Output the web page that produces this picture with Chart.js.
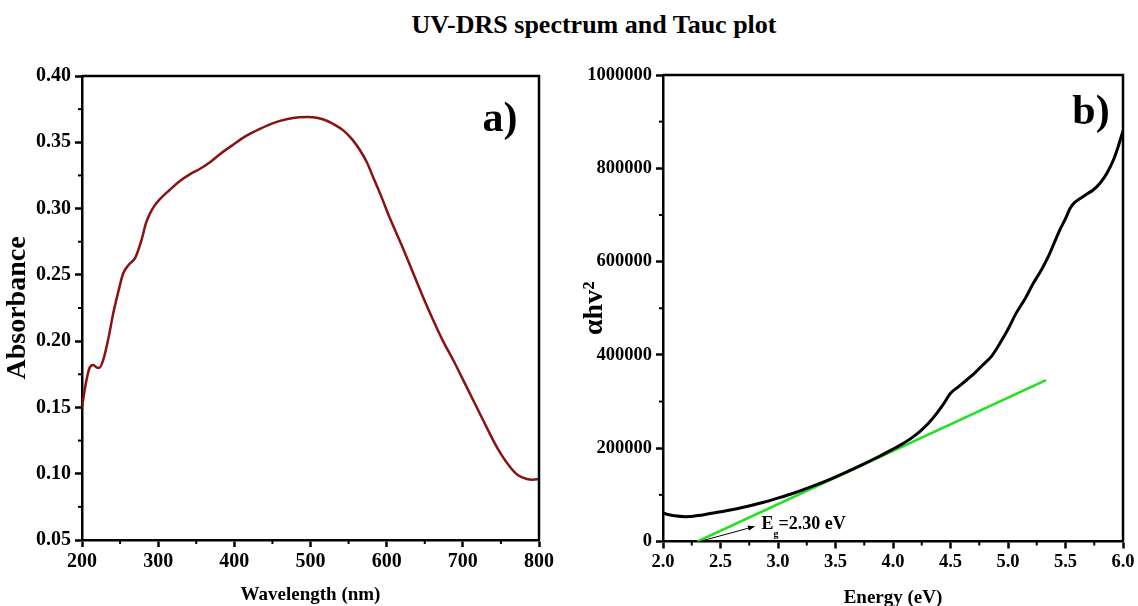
<!DOCTYPE html>
<html><head><meta charset="utf-8">
<script src="https://cdn.jsdelivr.net/npm/chart.js@4/dist/chart.umd.min.js"></script>
<style>
html,body{margin:0;padding:0;background:#fff;}
#wrap{position:relative;width:1138px;height:606px;overflow:hidden;background:#fff;}
#title{position:absolute;left:0;top:10px;width:1188px;text-align:center;font:bold 26px 'Liberation Serif','Times New Roman',serif;color:#000;}
canvas{position:absolute;left:0;top:0;}
</style></head><body>
<div id="wrap">
<div id="title">UV-DRS spectrum and Tauc plot</div>
<canvas id="c1" width="1138" height="606"></canvas>
<canvas id="c2" width="1138" height="606"></canvas>
</div>
<script>
// ---- data: panel a (UV-DRS) ----
const wavelength = [200,205,210,215,220,223,228,235,241,248,254,262,270,278,284,289,295,302,315,329,342,355,368,381,398,416,433,451,470,485,497,508,519,530,543,555,565,574,582,593,604,620,635,648,661,674,688,701,714,727,740,751,762,772,784,792,800];
const absorbance = [0.150,0.168,0.180,0.182,0.180,0.180,0.186,0.203,0.221,0.238,0.251,0.258,0.263,0.276,0.289,0.296,0.302,0.307,0.314,0.321,0.326,0.330,0.335,0.341,0.348,0.355,0.360,0.3645,0.3675,0.3688,0.3691,0.3685,0.3668,0.3638,0.359,0.352,0.344,0.335,0.324,0.309,0.293,0.272,0.251,0.233,0.216,0.200,0.185,0.170,0.155,0.140,0.125,0.114,0.105,0.099,0.096,0.0955,0.096];
// ---- data: panel b (Tauc plot) ----
const energy = [2.0,2.1,2.2,2.3,2.41,2.55,2.70,2.85,2.99,3.14,3.28,3.42,3.57,3.72,3.86,4.0,4.06,4.15,4.23,4.31,4.38,4.44,4.50,4.57,4.64,4.71,4.78,4.86,4.93,5.0,5.07,5.15,5.22,5.29,5.35,5.40,5.45,5.50,5.54,5.58,5.63,5.68,5.74,5.80,5.86,5.92,5.96,6.0];
const tauc = [60400,55000,53200,55500,60000,66000,73500,82500,92500,104000,116500,130000,146000,163000,180000,198000,206000,220000,235000,254000,274800,295000,317700,332000,346200,361000,378300,398000,424900,455000,489000,521000,553500,582000,610500,639000,667700,692000,714200,727000,735700,744000,753500,768000,789300,820000,848000,880000];
const fitEnergy = [2.30, 5.33];
const fitValue = [0, 346000];
// ---- tick labels ----
const xTicksA = [200,300,400,500,600,700,800];
const yTicksA = [0.05,0.10,0.15,0.20,0.25,0.30,0.35,0.40];
const xTicksB = [2.0,2.5,3.0,3.5,4.0,4.5,5.0,5.5,6.0];
const yTicksB = [0,200000,400000,600000,800000,1000000];
const bandGapLabel = '=2.30 eV';

const SERIF = "'Liberation Serif','Times New Roman',serif";

function mids(arr){const m=[];for(let i=0;i<arr.length-1;i++)m.push((arr[i]+arr[i+1])/2);return m;}

const framePlugin = {
  id:'frame',
  afterDraw(chart, args, opts){
    const {ctx, chartArea:a, scales} = chart;
    ctx.save();
    ctx.strokeStyle='#000';
    ctx.lineWidth=2;
    mids(opts.xt).forEach(v=>{const p=scales.x.getPixelForValue(v);ctx.beginPath();ctx.moveTo(p,a.bottom);ctx.lineTo(p,a.bottom+4);ctx.stroke();});
    mids(opts.yt).forEach(v=>{const p=scales.y.getPixelForValue(v);ctx.beginPath();ctx.moveTo(a.left,p);ctx.lineTo(a.left-4,p);ctx.stroke();});
    ctx.lineWidth=2.5;
    ctx.beginPath();ctx.moveTo(a.left,a.top);ctx.lineTo(a.right,a.top);ctx.lineTo(a.right,a.bottom);ctx.stroke();
    ctx.fillStyle='#000';
    ctx.font='bold 42px '+SERIF;
    ctx.textAlign='center';ctx.textBaseline='middle';
    ctx.fillText(opts.letter, opts.lx, opts.ly);
    if(opts.eg){
      const x0=scales.x.getPixelForValue(fitEnergy[0]), y0=scales.y.getPixelForValue(fitValue[0]);
      const x1=x0+57, y1=y0-15;
      ctx.lineWidth=1;
      ctx.beginPath();ctx.moveTo(x0+2,y0);ctx.lineTo(x1,y1);ctx.stroke();
      const ang=Math.atan2(y1-y0,x1-x0);
      ctx.beginPath();ctx.moveTo(x1,y1);
      ctx.lineTo(x1-7*Math.cos(ang-0.4),y1-7*Math.sin(ang-0.4));
      ctx.lineTo(x1-7*Math.cos(ang+0.4),y1-7*Math.sin(ang+0.4));
      ctx.closePath();ctx.fill();
      ctx.textAlign='left';ctx.textBaseline='alphabetic';
      ctx.font='bold 18px '+SERIF;
      ctx.fillText('E', x1+7, y0-13);
      const wE=ctx.measureText('E').width;
      ctx.font='bold 10px '+SERIF;
      ctx.fillText('g', x1+7+wE, y0-5);
      ctx.font='bold 18px '+SERIF;
      ctx.fillText(bandGapLabel, x1+7+wE+5, y0-13);
    }
    ctx.restore();
  }
};

function axis(min,max,ticks,fmt,title,size,isY,titlePad,tickSize,titleSize){
  return {
    type:'linear', min, max,
    afterBuildTicks(s){s.ticks=ticks.map(v=>({value:v}));},
    afterFit(s){ if(isY) s.width=size; else s.height=size; },
    ticks:{color:'#000',font:{family:SERIF,size:tickSize,weight:'bold'},autoSkip:false,maxRotation:0,padding:isY?4:3,callback:fmt},
    grid:{display:true,drawOnChartArea:false,drawTicks:true,tickLength:7,tickColor:'#000',tickWidth:2.5},
    border:{display:true,color:'#000',width:2.5},
    title:{display:true,text:title,color:'#000',font:{family:SERIF,size:titleSize,weight:'bold'},padding:titlePad}
  };
}

Chart.defaults.font.family = SERIF;

new Chart(document.getElementById('c1'),{
  type:'scatter',
  data:{datasets:[{data:wavelength.map((x,i)=>({x,y:absorbance[i]})),showLine:true,borderColor:'#8b1212',borderWidth:2.5,pointRadius:0,cubicInterpolationMode:'monotone'}]},
  options:{
    responsive:false,animation:false,devicePixelRatio:1,
    layout:{padding:{left:0,top:76,right:599,bottom:0}},
    plugins:{legend:{display:false},tooltip:{enabled:false},frame:{xt:xTicksA,yt:yTicksA,letter:'a)',lx:500,ly:120}},
    scales:{
      x:axis(200,800,xTicksA,v=>String(v),'Wavelength (nm)',66,false,{top:0,bottom:0},20,19),
      y:axis(0.05,0.40,yTicksA,v=>v.toFixed(2),'Absorbance',82,true,{top:1,bottom:0},20,28)
    }
  },
  plugins:[framePlugin]
});

new Chart(document.getElementById('c2'),{
  type:'scatter',
  data:{datasets:[
    {data:energy.map((x,i)=>({x,y:tauc[i]})),showLine:true,borderColor:'#000',borderWidth:3,pointRadius:0,cubicInterpolationMode:'monotone'},
    {data:fitEnergy.map((x,i)=>({x,y:fitValue[i]})),showLine:true,borderColor:'#22e022',borderWidth:2.5,pointRadius:0}
  ]},
  options:{
    responsive:false,animation:false,devicePixelRatio:1,
    layout:{padding:{left:570,top:75,right:15,bottom:0}},
    plugins:{legend:{display:false},tooltip:{enabled:false},frame:{xt:xTicksB,yt:yTicksB,letter:'b)',lx:1091,ly:113,eg:true}},
    scales:{
      x:axis(2,6,xTicksB,v=>v.toFixed(1),'Energy (eV)',64.5,false,{top:0,bottom:-3},18.5,19),
      y:axis(0,1000000,yTicksB,v=>String(v),'\u03B1hv\u00B2',93,true,{top:8,bottom:0},18.5,28)
    }
  },
  plugins:[framePlugin]
});
</script>
</body></html>
